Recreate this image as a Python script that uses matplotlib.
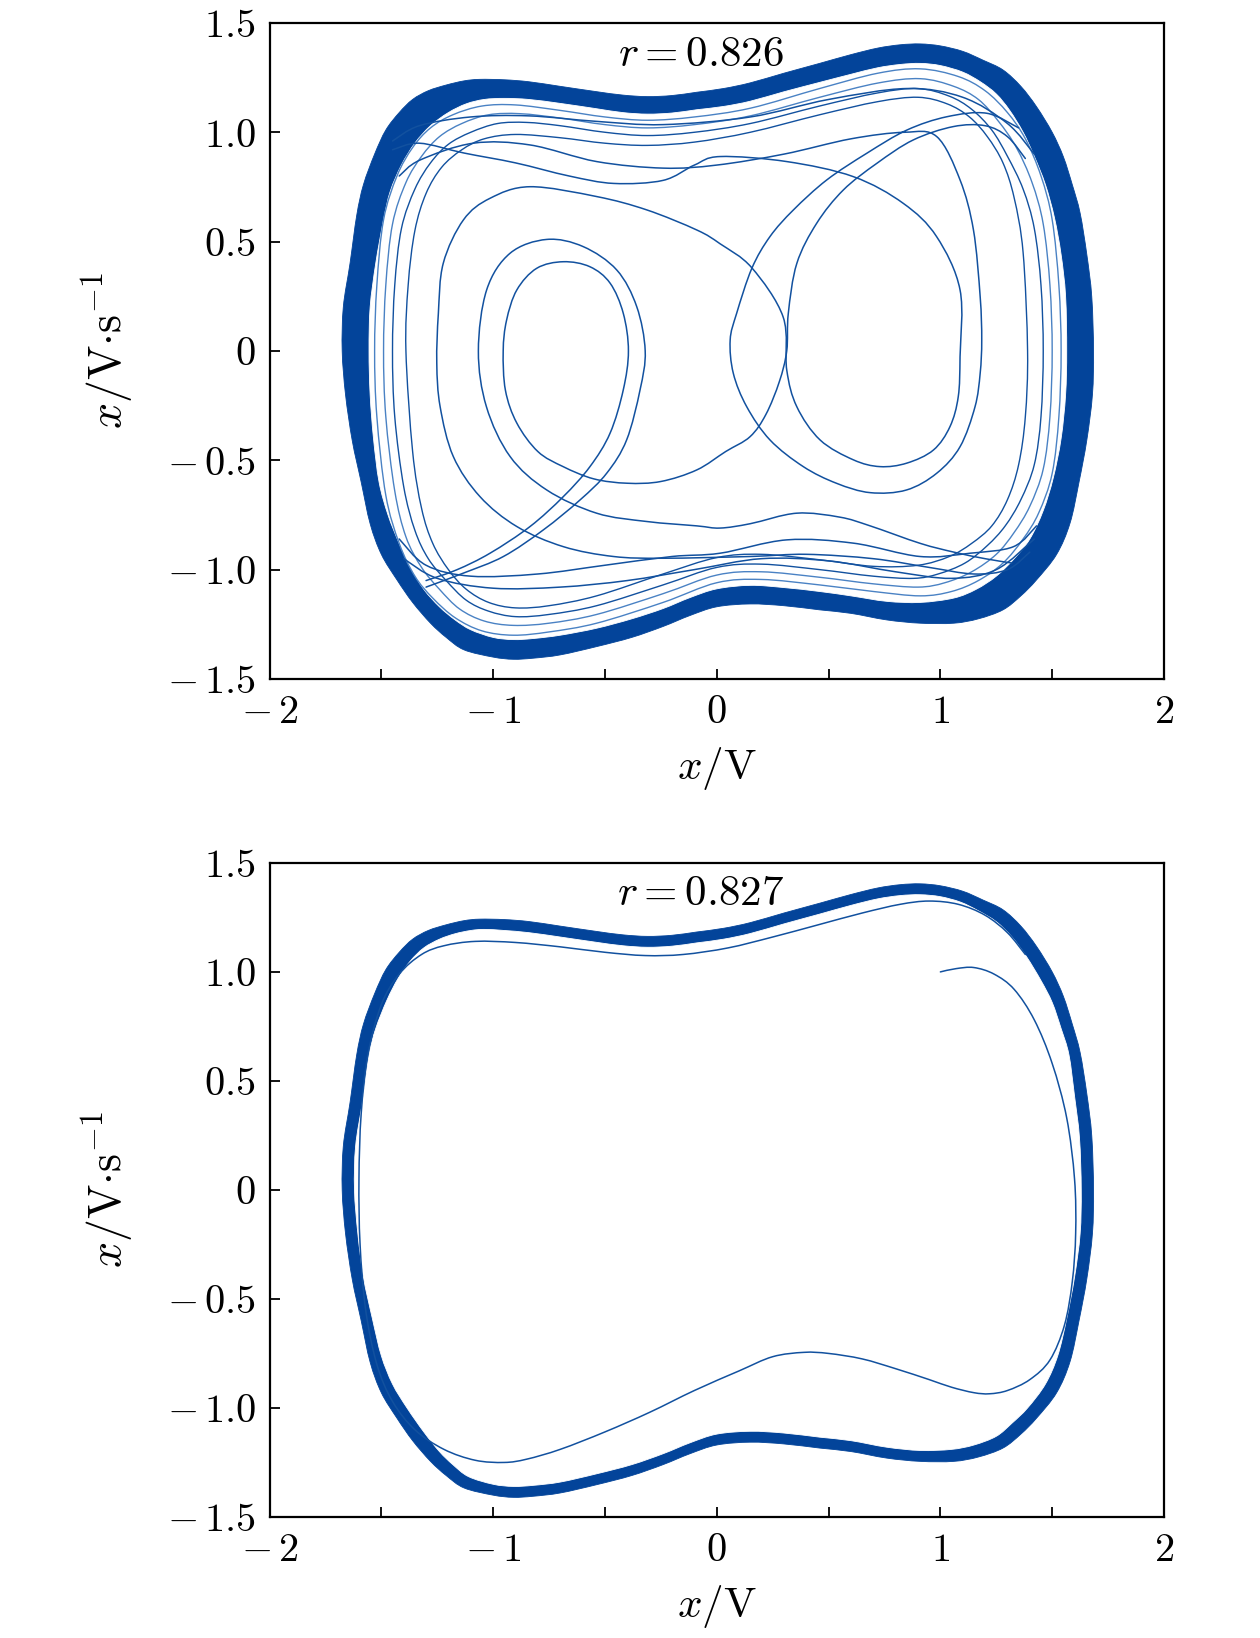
import numpy as np
import matplotlib
matplotlib.use('Agg')
import matplotlib.pyplot as plt
from matplotlib.path import Path
from matplotlib.patches import PathPatch

plt.rcParams['mathtext.fontset'] = 'cm'
plt.rcParams['font.family'] = ['DejaVu Serif']

# ---------------- tick values / labels ----------------
xtick_vals = [-2, -1.5, -1, -0.5, 0, 0.5, 1, 1.5, 2]
xtick_labels = [r'$-\,2$', '', r'$-\,1$', '', r'$0$', '', r'$1$', '', r'$2$']
ytick_vals = [-1.5, -1.0, -0.5, 0, 0.5, 1.0, 1.5]
ytick_labels = [r'$-\,1.5$', r'$-\,1.0$', r'$-\,0.5$', r'$0$', r'$0.5$', r'$1.0$', r'$1.5$']
panel_labels = [r'$r=0.826$', r'$r=0.827$']

# ---------------- outer edge of the attractor band (both panels) ----------------
O_up_x = [-1.675,-1.67,-1.64,-1.61,-1.58,-1.53,-1.48,-1.42,-1.36,-1.29,-1.21,-1.13,-1.06,-0.95,-0.84,-0.70,-0.54,-0.42,-0.31,-0.20,-0.09,0.03,0.15,0.30,0.46,0.60,0.72,0.82,0.91,1.00,1.10,1.19,1.28,1.36,1.43,1.50,1.55,1.59,1.625,1.655,1.677,1.685]
O_up_y = [0.0,0.20,0.40,0.62,0.76,0.90,1.01,1.09,1.15,1.19,1.216,1.235,1.242,1.24,1.231,1.21,1.186,1.17,1.163,1.168,1.183,1.20,1.226,1.27,1.315,1.355,1.385,1.40,1.404,1.395,1.37,1.33,1.285,1.21,1.117,1.00,0.888,0.76,0.63,0.44,0.248,0.0]
O_lo_x = [1.685,1.68,1.655,1.62,1.58,1.52,1.43,1.36,1.28,1.17,1.06,0.91,0.76,0.60,0.46,0.30,0.15,0.0,-0.12,-0.24,-0.38,-0.537,-0.70,-0.82,-0.91,-1.00,-1.13,-1.21,-1.28,-1.36,-1.43,-1.50,-1.55,-1.59,-1.63,-1.66,-1.675]
O_lo_y = [0.0,-0.20,-0.407,-0.60,-0.787,-0.93,-1.047,-1.12,-1.184,-1.225,-1.245,-1.245,-1.23,-1.20,-1.184,-1.165,-1.157,-1.17,-1.21,-1.26,-1.31,-1.352,-1.39,-1.405,-1.41,-1.40,-1.367,-1.31,-1.245,-1.15,-1.047,-0.93,-0.79,-0.60,-0.41,-0.20,0.0]

# ---------------- inner edge of dark band, panel r=0.826 ----------------
D_up_x = [-1.555,-1.55,-1.525,-1.49,-1.46,-1.41,-1.35,-1.28,-1.20,-1.12,-1.04,-0.95,-0.84,-0.70,-0.54,-0.42,-0.31,-0.20,-0.09,0.03,0.15,0.30,0.46,0.60,0.72,0.82,0.91,1.00,1.10,1.18,1.25,1.31,1.37,1.42,1.47,1.51,1.54,1.56,1.565]
D_up_y = [0.0,0.20,0.40,0.60,0.73,0.85,0.95,1.03,1.09,1.13,1.15,1.155,1.15,1.132,1.108,1.09,1.083,1.088,1.103,1.118,1.142,1.185,1.228,1.265,1.295,1.31,1.315,1.305,1.275,1.23,1.175,1.10,1.00,0.89,0.76,0.61,0.44,0.25,0.0]
D_lo_x = [1.565,1.56,1.54,1.505,1.46,1.40,1.33,1.25,1.16,1.06,0.91,0.76,0.60,0.46,0.30,0.15,0.0,-0.12,-0.24,-0.38,-0.537,-0.70,-0.82,-0.91,-1.00,-1.10,-1.17,-1.24,-1.31,-1.37,-1.42,-1.47,-1.51,-1.535,-1.55,-1.555]
D_lo_y = [0.0,-0.20,-0.40,-0.58,-0.73,-0.86,-0.95,-1.03,-1.09,-1.13,-1.15,-1.145,-1.12,-1.10,-1.082,-1.072,-1.088,-1.128,-1.178,-1.225,-1.268,-1.30,-1.315,-1.32,-1.31,-1.275,-1.23,-1.17,-1.09,-0.99,-0.88,-0.75,-0.60,-0.40,-0.20,0.0]

# ---------------- dense strands just inside the band (r=0.826) ----------------
T1_up_x = [-1.53,-1.52,-1.49,-1.43,-1.36,-1.28,-1.18,-1.05,-0.90,-0.70,-0.50,-0.31,-0.10,0.15,0.46,0.72,0.91,1.08,1.20,1.30,1.38,1.45,1.50,1.53,1.54]
T1_up_y = [0.0,0.30,0.60,0.80,0.93,1.02,1.08,1.12,1.125,1.10,1.07,1.055,1.07,1.11,1.20,1.27,1.29,1.255,1.19,1.09,0.97,0.80,0.60,0.30,0.0]
T1_lo_x = [1.54,1.53,1.50,1.44,1.37,1.28,1.17,1.05,0.91,0.70,0.46,0.20,0.0,-0.24,-0.537,-0.75,-0.91,-1.05,-1.17,-1.27,-1.35,-1.42,-1.48,-1.52,-1.53]
T1_lo_y = [0.0,-0.30,-0.56,-0.74,-0.86,-0.97,-1.05,-1.10,-1.12,-1.10,-1.07,-1.045,-1.06,-1.15,-1.245,-1.285,-1.30,-1.28,-1.22,-1.13,-1.03,-0.88,-0.66,-0.30,0.0]

T2_up_x = [-1.49,-1.48,-1.45,-1.39,-1.32,-1.24,-1.14,-1.02,-0.88,-0.70,-0.50,-0.31,-0.10,0.15,0.46,0.72,0.91,1.06,1.17,1.26,1.34,1.41,1.46,1.49,1.50]
T2_up_y = [0.0,0.30,0.58,0.77,0.89,0.98,1.04,1.08,1.085,1.065,1.035,1.02,1.035,1.075,1.16,1.225,1.245,1.21,1.15,1.05,0.93,0.77,0.58,0.30,0.0]
T2_lo_x = [1.50,1.49,1.46,1.40,1.33,1.25,1.14,1.02,0.90,0.70,0.46,0.20,0.0,-0.24,-0.537,-0.75,-0.91,-1.04,-1.15,-1.24,-1.32,-1.39,-1.44,-1.48,-1.49]
T2_lo_y = [0.0,-0.30,-0.54,-0.71,-0.83,-0.93,-1.01,-1.06,-1.08,-1.065,-1.035,-1.01,-1.025,-1.11,-1.205,-1.245,-1.255,-1.235,-1.18,-1.09,-0.99,-0.85,-0.64,-0.30,0.0]

T3_up_x = [-1.45,-1.44,-1.41,-1.35,-1.28,-1.20,-1.10,-0.98,-0.85,-0.70,-0.50,-0.31,-0.10,0.15,0.46,0.72,0.90,1.04,1.14,1.23,1.30,1.37,1.42,1.45,1.46]
T3_up_y = [0.0,0.30,0.56,0.74,0.86,0.945,1.00,1.04,1.045,1.03,1.00,0.985,1.0,1.04,1.12,1.18,1.20,1.165,1.105,1.01,0.89,0.74,0.56,0.30,0.0]
T3_lo_x = [1.46,1.45,1.42,1.36,1.29,1.21,1.11,0.99,0.88,0.70,0.46,0.20,0.0,-0.24,-0.537,-0.75,-0.90,-1.02,-1.12,-1.21,-1.29,-1.35,-1.40,-1.44,-1.45]
T3_lo_y = [0.0,-0.30,-0.52,-0.68,-0.80,-0.89,-0.97,-1.02,-1.04,-1.03,-1.00,-0.975,-0.99,-1.07,-1.165,-1.205,-1.215,-1.19,-1.14,-1.05,-0.95,-0.82,-0.62,-0.30,0.0]

T4_up_x = [-1.39,-1.38,-1.35,-1.30,-1.23,-1.14,-1.04,-0.90,-0.70,-0.50,-0.31,-0.10,0.15,0.46,0.72,0.90,1.03,1.13,1.21,1.28,1.33,1.37,1.39]
T4_up_y = [0.0,0.30,0.55,0.72,0.84,0.92,0.97,0.99,0.975,0.95,0.94,0.955,1.0,1.08,1.14,1.16,1.13,1.07,0.98,0.86,0.70,0.45,0.0]
T4_lo_x = [1.39,1.38,1.35,1.30,1.23,1.14,1.04,0.90,0.70,0.46,0.20,0.0,-0.24,-0.537,-0.75,-0.90,-1.02,-1.12,-1.20,-1.27,-1.32,-1.36,-1.39]
T4_lo_y = [0.0,-0.30,-0.52,-0.68,-0.80,-0.88,-0.94,-0.98,-0.985,-0.955,-0.93,-0.945,-1.02,-1.12,-1.165,-1.175,-1.15,-1.09,-1.0,-0.88,-0.72,-0.46,0.0]

# ---------------- interior strands (r=0.826) ----------------
I1_x = [-1.30,-1.163,-1.014,-0.835,-0.686,-0.567,-0.477,-0.418,-0.395,-0.418,-0.477,-0.567,-0.686,-0.805,-0.894,-0.94,-0.955,-0.945,-0.894,-0.80,-0.687,-0.55,-0.40,-0.25,-0.089,0.04,0.149,0.22,0.28,0.313,0.32,0.358,0.447,0.566,0.716,0.879,1.058,1.20,1.30,1.38]
I1_y = [-1.05,-1.001,-0.925,-0.803,-0.666,-0.529,-0.376,-0.178,0.0,0.172,0.31,0.385,0.408,0.378,0.279,0.14,0.0,-0.18,-0.33,-0.46,-0.529,-0.585,-0.605,-0.597,-0.544,-0.46,-0.392,-0.29,-0.14,0.0,0.172,0.40,0.584,0.736,0.858,0.965,1.026,1.03,0.98,0.88]

I2_x = [-1.30,-1.133,-0.954,-0.775,-0.611,-0.492,-0.403,-0.343,-0.32,-0.358,-0.447,-0.597,-0.76,-0.924,-1.029,-1.066,-1.03,-0.924,-0.76,-0.537,-0.313,-0.089,0.015,0.15,0.357,0.55,0.686,0.91,1.06,1.20,1.32]
I2_y = [-1.08,-1.016,-0.94,-0.818,-0.681,-0.559,-0.407,-0.178,0.0,0.203,0.37,0.477,0.51,0.447,0.279,0.0,-0.255,-0.483,-0.636,-0.742,-0.78,-0.80,-0.81,-0.79,-0.742,-0.76,-0.80,-0.88,-0.92,-0.95,-0.97]

I3_x = [1.40,1.30,1.15,0.95,0.70,0.40,0.149,-0.239,-0.462,-0.686,-0.894,-1.059,-1.178,-1.237,-1.252,-1.245,-1.223,-1.133,-1.014,-0.835,-0.537,-0.313,-0.089,0.015,0.157,0.297,0.313,0.358,0.462,0.611,0.73,0.85,0.969,1.043,1.08,1.088,1.088,0.983,0.834,0.611,0.313,0.015,-0.10,-0.24,-0.46,-0.66,-0.90,-1.13,-1.33,-1.45]
I3_y = [-0.92,-1.0,-1.02,-0.99,-0.95,-0.93,-0.94,-0.948,-0.94,-0.895,-0.803,-0.666,-0.483,-0.255,-0.056,0.17,0.401,0.599,0.698,0.751,0.706,0.645,0.553,0.49,0.38,0.155,-0.087,-0.255,-0.407,-0.498,-0.529,-0.513,-0.453,-0.346,-0.209,-0.026,0.279,0.523,0.675,0.797,0.866,0.889,0.85,0.78,0.766,0.80,0.86,0.905,0.95,0.92]

R2_x = [-1.42,-1.327,-1.089,-0.835,-0.537,-0.239,0.0,0.30,0.60,0.84,0.984,1.088,1.148,1.178,1.185,1.178,1.155,1.088,0.984,0.848,0.686,0.535,0.387,0.238,0.134,0.074,0.06,0.089,0.157,0.238,0.343,0.492,0.671,0.85,1.029,1.207,1.35]
R2_y = [0.80,0.873,0.95,0.942,0.866,0.836,0.85,0.90,0.97,1.0,0.98,0.782,0.553,0.248,0.05,-0.102,-0.255,-0.438,-0.559,-0.636,-0.648,-0.605,-0.529,-0.407,-0.255,-0.102,0.05,0.172,0.378,0.523,0.645,0.782,0.904,1.01,1.071,1.087,1.02]

S1_x = [-1.45,-1.33,-1.10,-0.84,-0.54,-0.24,0.15,0.50,0.85,1.10,1.30,1.42]
S1_y = [0.96,1.03,1.07,1.075,1.05,1.035,1.07,1.15,1.20,1.16,1.04,0.90]
B1_x = [-1.40,-1.25,-1.00,-0.70,-0.40,-0.10,0.20,0.50,0.80,1.05,1.25,1.42]
B1_y = [-0.95,-1.04,-1.085,-1.08,-1.05,-1.00,-0.95,-0.96,-1.01,-1.04,-1.00,-0.86]
B2_x = [-1.42,-1.30,-1.10,-0.80,-0.50,-0.20,0.015,0.313,0.611,0.909,1.133,1.327,1.43]
B2_y = [-0.86,-0.98,-1.03,-1.02,-0.98,-0.94,-0.925,-0.864,-0.879,-0.94,-0.925,-0.895,-0.80]

# ---------------- panel r=0.827 ----------------
D2_up_x = [-1.62,-1.615,-1.585,-1.555,-1.525,-1.475,-1.425,-1.37,-1.31,-1.24,-1.17,-1.10,-1.04,-0.95,-0.84,-0.70,-0.54,-0.42,-0.31,-0.20,-0.09,0.03,0.15,0.30,0.46,0.60,0.72,0.82,0.91,1.00,1.09,1.17,1.25,1.32,1.385,1.45,1.50,1.54,1.575,1.60,1.622,1.63]
D2_up_y = [0.0,0.20,0.40,0.62,0.74,0.87,0.97,1.05,1.11,1.15,1.175,1.19,1.195,1.19,1.18,1.16,1.136,1.12,1.113,1.118,1.133,1.15,1.176,1.22,1.265,1.305,1.335,1.35,1.354,1.345,1.32,1.28,1.23,1.16,1.07,0.96,0.86,0.74,0.62,0.43,0.24,0.0]
D2_lo_x = [1.63,1.625,1.60,1.565,1.525,1.47,1.39,1.32,1.25,1.15,1.05,0.91,0.76,0.60,0.46,0.30,0.15,0.0,-0.12,-0.24,-0.38,-0.537,-0.70,-0.82,-0.91,-1.00,-1.11,-1.18,-1.24,-1.31,-1.385,-1.45,-1.50,-1.54,-1.58,-1.605,-1.62]
D2_lo_y = [0.0,-0.20,-0.40,-0.59,-0.76,-0.89,-1.0,-1.07,-1.13,-1.17,-1.19,-1.195,-1.18,-1.15,-1.134,-1.115,-1.107,-1.12,-1.16,-1.21,-1.26,-1.302,-1.34,-1.355,-1.36,-1.35,-1.315,-1.26,-1.20,-1.11,-1.0,-0.89,-0.76,-0.59,-0.40,-0.20,0.0]

TR_x = [1.0,1.07,1.15,1.24,1.33,1.42,1.50,1.565,1.60,1.605,1.59,1.555,1.49,1.40,1.30,1.22,1.15,1.05,0.95,0.80,0.65,0.50,0.39,0.25,0.10,-0.10,-0.30,-0.50,-0.70,-0.85,-0.95,-1.08,-1.22,-1.35,-1.45,-1.52,-1.57,-1.595,-1.60,-1.59,-1.56,-1.50,-1.42,-1.32,-1.22,-1.08,-0.90,-0.70,-0.50,-0.32,-0.15,0.05,0.25,0.45,0.65,0.82,0.95,1.08,1.20,1.30,1.38]
TR_y = [1.0,1.015,1.02,0.99,0.92,0.78,0.58,0.33,0.05,-0.20,-0.42,-0.62,-0.78,-0.87,-0.92,-0.935,-0.93,-0.905,-0.87,-0.82,-0.775,-0.75,-0.745,-0.765,-0.83,-0.92,-1.02,-1.11,-1.19,-1.235,-1.25,-1.24,-1.19,-1.10,-0.97,-0.80,-0.55,-0.25,0.05,0.35,0.62,0.85,0.99,1.08,1.12,1.14,1.135,1.115,1.09,1.075,1.08,1.11,1.16,1.215,1.27,1.31,1.325,1.31,1.26,1.18,1.08]

BAND = '#03449a'
LINE = '#12519f'
LIGHT = '#4a82c4'
FS = 29


def loop(ux, uy, lx, ly):
    return list(ux) + list(lx), list(uy) + list(ly)


def smooth_path(xs, ys, closed=False):
    pts = np.column_stack([xs, ys]).astype(float)
    keep = np.ones(len(pts), bool)
    keep[1:] = np.any(np.abs(np.diff(pts, axis=0)) > 1e-9, axis=1)
    pts = pts[keep]
    if closed and np.allclose(pts[0], pts[-1]):
        pts = pts[:-1]
    n = len(pts)
    verts = [pts[0]]
    codes = [Path.MOVETO]
    nseg = n if closed else n - 1
    for i in range(nseg):
        if closed:
            p0, p1, p2, p3 = pts[(i - 1) % n], pts[i], pts[(i + 1) % n], pts[(i + 2) % n]
        else:
            p0 = pts[i - 1] if i > 0 else pts[i]
            p1, p2 = pts[i], pts[i + 1]
            p3 = pts[i + 2] if i + 2 < n else pts[i + 1]
        verts += [p1 + (p2 - p0) / 6.0, p2 - (p3 - p1) / 6.0, p2]
        codes += [Path.CURVE4] * 3
    if closed:
        verts.append(pts[0])
        codes.append(Path.CLOSEPOLY)
    return Path(verts, codes)


def draw_line(ax, xs, ys, color, lw, z=3, closed=False):
    ax.add_patch(PathPatch(smooth_path(xs, ys, closed), facecolor='none',
                           edgecolor=color, lw=lw, zorder=z, capstyle='round'))


def draw_fill(ax, xs, ys, color, z):
    ax.add_patch(PathPatch(smooth_path(xs, ys, True), facecolor=color,
                           edgecolor=color, lw=0.6, zorder=z))


def style(ax, label):
    ax.set_xlim(-2, 2)
    ax.set_ylim(-1.5, 1.5)
    ax.set_xticks(xtick_vals)
    ax.set_xticklabels(xtick_labels)
    ax.set_yticks(ytick_vals)
    ax.set_yticklabels(ytick_labels)
    ax.tick_params(direction='in', length=7, width=1.3, labelsize=FS,
                   top=False, right=False)
    ax.tick_params(axis='x', pad=11)
    ax.tick_params(axis='y', pad=10)
    for s in ax.spines.values():
        s.set_linewidth(1.6)
        s.set_zorder(10)
    ax.set_xlabel(r'$x/\mathrm{V}$', fontsize=31, labelpad=10)
    ax.set_ylabel(r'$x/\mathrm{V{\cdot}s^{-1}}$', fontsize=33, labelpad=22)
    ax.text(-0.07, 1.36, label, ha='center', va='center', fontsize=31, zorder=12)


fig = plt.figure(figsize=(12.6, 16.38), dpi=100)
ax1 = fig.add_axes([0.2139, 0.5855, 0.7099, 0.4005])
ax2 = fig.add_axes([0.2139, 0.0739, 0.7099, 0.3993])

ox, oy = loop(O_up_x, O_up_y, O_lo_x, O_lo_y)

# ---- top panel ----
dx, dy = loop(D_up_x, D_up_y, D_lo_x, D_lo_y)
draw_fill(ax1, ox, oy, BAND, 1)
draw_fill(ax1, dx, dy, 'white', 1.1)
for ux, uy, lx, ly, c, w in [(T1_up_x, T1_up_y, T1_lo_x, T1_lo_y, LIGHT, 1.0),
                             (T2_up_x, T2_up_y, T2_lo_x, T2_lo_y, LIGHT, 1.0),
                             (T3_up_x, T3_up_y, T3_lo_x, T3_lo_y, LINE, 1.0),
                             (T4_up_x, T4_up_y, T4_lo_x, T4_lo_y, LINE, 1.0)]:
    lx_, ly_ = loop(ux, uy, lx, ly)
    draw_line(ax1, lx_, ly_, c, w, z=2, closed=True)
for xs, ys in [(I1_x, I1_y), (I2_x, I2_y), (I3_x, I3_y), (R2_x, R2_y),
               (S1_x, S1_y), (B1_x, B1_y), (B2_x, B2_y)]:
    draw_line(ax1, xs, ys, LINE, 1.1)
style(ax1, panel_labels[0])

# ---- bottom panel ----
d2x, d2y = loop(D2_up_x, D2_up_y, D2_lo_x, D2_lo_y)
draw_fill(ax2, ox, oy, BAND, 1)
draw_fill(ax2, d2x, d2y, 'white', 1.1)
draw_line(ax2, TR_x, TR_y, LINE, 1.1)
style(ax2, panel_labels[1])

fig.savefig('out.png', dpi=100)
